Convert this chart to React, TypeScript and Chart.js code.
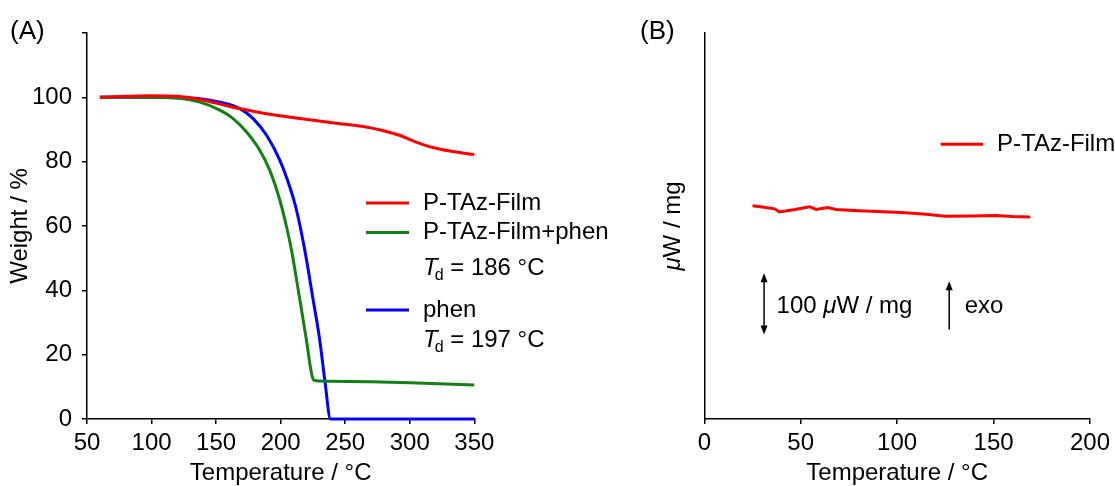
import React, { useEffect, useRef } from "react";
import { Chart, registerables } from "chart.js";

Chart.register(...registerables);

const FAMILY = "'Liberation Sans', Arial, Helvetica, sans-serif";
const RED = "#ff0000";
const GREEN = "#138013";
const BLUE = "#0000ff";

// ---------- Panel (A): TGA ----------
const tgaXTicks = [50, 100, 150, 200, 250, 300, 350];
const tgaYTicks = [0, 20, 40, 60, 80, 100, 120];

const filmTemp = [60, 80, 100, 120, 137.5, 150, 168, 189, 215, 246, 255, 266, 279, 292, 305, 318, 331, 350];
const filmWeight = [100, 100.3, 100.5, 100.3, 99.3, 98.2, 96.5, 94.9, 93.4, 91.8, 91.4, 90.8, 89.7, 88.2, 86.1, 84.4, 83.3, 82.2];

const mixTemp = [60, 100, 120, 137.5, 152.9, 163.2, 173.6, 183.9, 191.6, 199.4, 204.6, 208.4, 214.9, 220, 223.9, 225.7, 230, 270, 300, 350];
const mixWeight = [100, 100, 99.8, 98.5, 96, 93.4, 89.2, 83.5, 77.3, 68, 59.7, 52.5, 37, 24.5, 14.2, 12.1, 11.8, 11.6, 11.3, 10.6];

const phenTemp = [60, 100, 120, 137.5, 152.9, 168.4, 178.7, 189.1, 199.4, 207.1, 212.3, 218.7, 225.2, 230.3, 234.2, 238.7, 350];
const phenWeight = [100, 100, 99.9, 99.6, 98.5, 96.5, 93.4, 88.2, 80.4, 72.1, 64.9, 52.5, 37, 24.5, 12.1, 0, 0];

const tgaLegend = ["P-TAz-Film", "P-TAz-Film+phen", "phen"];
const tdValues = [186, 197];

// ---------- Panel (B): DSC ----------
const dscXTicks = [0, 50, 100, 150, 200];
const dscTemp = [25, 30, 36.5, 39, 47, 54.6, 58, 64, 68.3, 80, 87, 104.5, 115, 125, 139, 151, 160, 169];
const dscHeatFlow = [348, 346, 343, 338, 342, 346.5, 342, 345, 342, 340, 339, 336.5, 334, 331, 331.5, 332, 330.5, 329.7];
const dscLegend = ["P-TAz-Film"];
const scaleBarTemp = 31;
const scaleBarRange = [138, 238];
const exoTemp = 127;
const exoRange = [146, 225];

const pts = (xs: number[], ys: number[]) => xs.map((x, i) => ({ x, y: ys[i] }));

function txt(ctx: CanvasRenderingContext2D, s: string, x: number, y: number, size = 24, style = "") {
  ctx.font = `${style} ${size}px ${FAMILY}`;
  ctx.textAlign = "left";
  ctx.textBaseline = "middle";
  ctx.fillStyle = "#000";
  ctx.fillText(s, x, y);
  return ctx.measureText(s).width;
}

function seg(ctx: CanvasRenderingContext2D, x0: number, y0: number, x1: number, y1: number, color: string, w: number) {
  ctx.strokeStyle = color;
  ctx.lineWidth = w;
  ctx.beginPath();
  ctx.moveTo(x0, y0);
  ctx.lineTo(x1, y1);
  ctx.stroke();
}

function head(ctx: CanvasRenderingContext2D, x: number, tipY: number, dir: number) {
  // dir = -1 pointing up, +1 pointing down
  ctx.fillStyle = "#000";
  ctx.beginPath();
  ctx.moveTo(x, tipY);
  ctx.lineTo(x - 3.5, tipY - dir * 9);
  ctx.lineTo(x + 3.5, tipY - dir * 9);
  ctx.closePath();
  ctx.fill();
}

function drawTd(ctx: CanvasRenderingContext2D, x: number, y: number, v: number) {
  x += txt(ctx, "T", x, y, 24, "italic") - 3;
  x += txt(ctx, "d", x, y + 8, 16);
  txt(ctx, ` = ${v} °C`, x, y, 24);
}

const panelAPlugin = {
  id: "panelA",
  afterDraw(chart: any) {
    const ctx: CanvasRenderingContext2D = chart.ctx;
    ctx.save();
    txt(ctx, "(A)", 10, 32, 26);
    const lx0 = 366, lx1 = 409, tx = 423;
    const rows = [
      { y: 203, c: RED, l: tgaLegend[0] },
      { y: 232.5, c: GREEN, l: tgaLegend[1] },
      { y: 310, c: BLUE, l: tgaLegend[2] },
    ];
    rows.forEach((r) => {
      seg(ctx, lx0, r.y, lx1, r.y, r.c, 3);
      txt(ctx, r.l, tx, r.y);
    });
    drawTd(ctx, tx, 268, tdValues[0]);
    drawTd(ctx, tx, 340, tdValues[1]);
    ctx.restore();
  },
};

const panelBPlugin = {
  id: "panelB",
  afterDraw(chart: any) {
    const ctx: CanvasRenderingContext2D = chart.ctx;
    const { x, y } = chart.scales;
    const area = chart.chartArea;
    ctx.save();
    txt(ctx, "(B)", 83, 32, 26);
    // legend
    seg(ctx, 383.7, 144.3, 426.3, 144.3, RED, 3);
    txt(ctx, dscLegend[0], 440, 144.3);
    // y title
    ctx.save();
    ctx.translate(116.5, (area.top + area.bottom) / 2);
    ctx.rotate(-Math.PI / 2);
    ctx.font = `italic 24px ${FAMILY}`;
    const wMu = ctx.measureText("μ").width;
    ctx.font = `24px ${FAMILY}`;
    const wRest = ctx.measureText("W / mg").width;
    let sx = -(wMu + wRest) / 2;
    sx += txt(ctx, "μ", sx, 0, 24, "italic");
    txt(ctx, "W / mg", sx, 0, 24);
    ctx.restore();
    // scale bar
    const bx = x.getPixelForValue(scaleBarTemp);
    const by0 = y.getPixelForValue(scaleBarRange[0]);
    const by1 = y.getPixelForValue(scaleBarRange[1]);
    seg(ctx, bx, by0 - 6, bx, by1 + 6, "#000", 1.5);
    head(ctx, bx, by1, -1);
    head(ctx, bx, by0, 1);
    let t = bx + 12.5;
    const ty = 306;
    t += txt(ctx, "100 ", t, ty);
    t += txt(ctx, "μ", t, ty, 24, "italic");
    txt(ctx, "W / mg", t, ty);
    // exo
    const ex = x.getPixelForValue(exoTemp);
    const ey0 = y.getPixelForValue(exoRange[0]);
    const ey1 = y.getPixelForValue(exoRange[1]);
    seg(ctx, ex, ey0, ex, ey1 + 6, "#000", 1.5);
    head(ctx, ex, ey1, -1);
    txt(ctx, "exo", ex + 15.5, ty);
    ctx.restore();
  },
};

const axisFont = { family: FAMILY, size: 24 };

function xAxis(min: number, max: number, ticksArr: number[], height: number) {
  return {
    type: "linear",
    min,
    max,
    afterBuildTicks: (s: any) => {
      s.ticks = ticksArr.map((v) => ({ value: v }));
    },
    afterFit: (s: any) => {
      s.height = height;
    },
    grid: { drawOnChartArea: false, drawTicks: true, tickLength: 5, color: "#000", lineWidth: 1.5 },
    border: { display: true, color: "#000", width: 1.5 },
    ticks: { color: "#000", font: axisFont, padding: 5, maxRotation: 0, autoSkip: false },
    title: {
      display: true,
      text: "Temperature / °C",
      color: "#000",
      font: { family: FAMILY, size: 24, lineHeight: 1 },
      padding: { top: 0, bottom: 1 },
    },
  };
}

export default function App() {
  const refA = useRef<HTMLCanvasElement>(null);
  const refB = useRef<HTMLCanvasElement>(null);

  useEffect(() => {
    const chartA = new Chart(refA.current as HTMLCanvasElement, {
      type: "line",
      data: {
        datasets: [
          { label: tgaLegend[0], data: pts(filmTemp, filmWeight), borderColor: RED, backgroundColor: RED, borderWidth: 3, pointRadius: 0, cubicInterpolationMode: "monotone", clip: false } as any,
          { label: tgaLegend[1], data: pts(mixTemp, mixWeight), borderColor: GREEN, backgroundColor: GREEN, borderWidth: 3, pointRadius: 0, cubicInterpolationMode: "monotone", clip: false } as any,
          { label: tgaLegend[2], data: pts(phenTemp, phenWeight), borderColor: BLUE, backgroundColor: BLUE, borderWidth: 3, pointRadius: 0, cubicInterpolationMode: "monotone", clip: false } as any,
        ],
      },
      options: {
        animation: false,
        responsive: false,
        events: [],
        layout: { padding: { left: 0, right: 620 - 474.3, top: 33, bottom: 0 } },
        plugins: { legend: { display: false }, tooltip: { enabled: false } },
        scales: {
          x: xAxis(50, 350, tgaXTicks, 67) as any,
          y: {
            type: "linear",
            min: 0,
            max: 120,
            afterBuildTicks: (s: any) => {
              s.ticks = tgaYTicks.map((v) => ({ value: v }));
            },
            afterFit: (s: any) => {
              s.width = 87;
            },
            grid: { drawOnChartArea: false, drawTicks: true, tickLength: 5, color: "#000", lineWidth: 1.5 },
            border: { display: true, color: "#000", width: 1.5 },
            ticks: {
              color: "#000",
              font: axisFont,
              padding: 10,
              callback: (v: any) => (Number(v) > 100 ? "" : String(v)),
            },
            title: {
              display: true,
              text: "Weight / %",
              color: "#000",
              font: { family: FAMILY, size: 24, lineHeight: 1 },
              padding: { top: 8.5, bottom: 0 },
            },
          },
        },
      },
      plugins: [panelAPlugin],
    });

    const chartB = new Chart(refB.current as HTMLCanvasElement, {
      type: "line",
      data: {
        datasets: [
          { label: dscLegend[0], data: pts(dscTemp, dscHeatFlow), borderColor: RED, backgroundColor: RED, borderWidth: 3, pointRadius: 0, tension: 0, clip: false } as any,
        ],
      },
      options: {
        animation: false,
        responsive: false,
        events: [],
        layout: { padding: { left: 0, right: 558 - (1091.7 - 557), top: 33, bottom: 0 } },
        plugins: { legend: { display: false }, tooltip: { enabled: false } },
        scales: {
          x: xAxis(0, 200, dscXTicks, 67) as any,
          y: {
            type: "linear",
            min: 0,
            max: 630,
            afterFit: (s: any) => {
              s.width = 704.3 - 557;
            },
            grid: { display: false },
            border: { display: true, color: "#000", width: 1.5 },
            ticks: { display: false },
            title: { display: false },
          },
        },
      },
      plugins: [panelBPlugin],
    });

    return () => {
      chartA.destroy();
      chartB.destroy();
    };
  }, []);

  return (
    <div style={{ position: "absolute", left: 0, top: 0, width: 1115, height: 486, background: "#fff" }}>
      <canvas ref={refA} width={620} height={486} style={{ position: "absolute", left: 0, top: 0, display: "block" }} />
      <canvas ref={refB} width={558} height={486} style={{ position: "absolute", left: 557, top: 0, display: "block" }} />
    </div>
  );
}
